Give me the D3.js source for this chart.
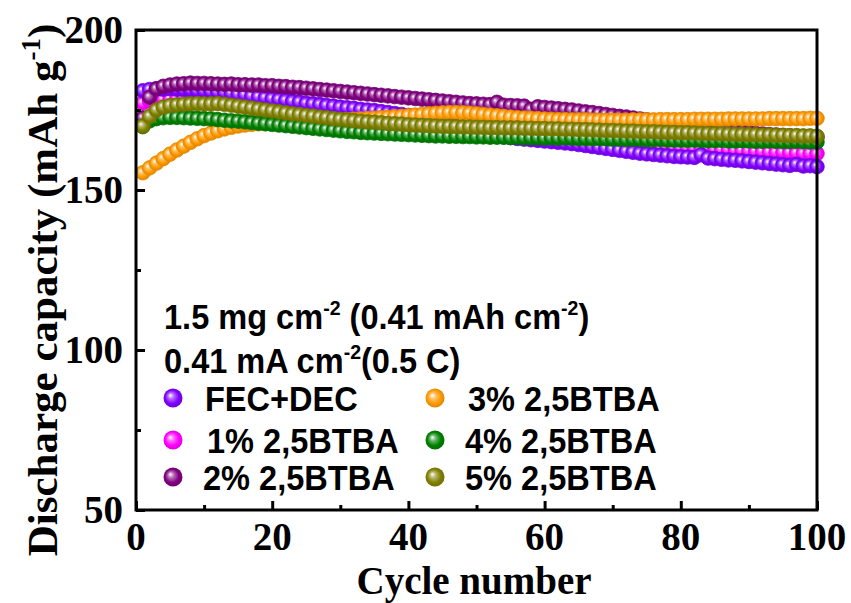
<!doctype html>
<html>
<head>
<meta charset="UTF-8">
<title>discharge capacity</title>
<script src="https://d3js.org/d3.v7.min.js"></script>
<style>
    body{ margin:0; background:#fff; }
    svg{ display:block; }
</style>
</head>
<body>
<div id="chart"></div>
<script>
// cycle index and tick labels
var cycles = d3.range(1, 101);
var xTicks = [0, 20, 40, 60, 80, 100];
var yTicks = [50, 100, 150, 200];

// discharge capacity (mAh/g)
var fecDec = [181.0,181.4,181.6,181.5,181.7,181.5,181.4,181.3,181.1,181.0,
180.8,180.6,180.5,180.2,179.9,179.7,179.3,179.1,178.8,178.5,
178.3,178.0,177.7,177.5,177.1,176.9,176.7,176.4,176.2,175.9,
175.7,175.5,175.2,175.0,174.8,174.5,174.2,173.9,173.6,173.3,
172.9,172.5,172.1,171.6,171.1,170.4,169.7,169.1,168.5,168.0,
167.6,167.2,166.9,166.6,166.4,166.1,165.9,165.7,165.5,165.3,
165.1,164.9,164.7,164.5,164.2,163.9,163.6,163.3,163.0,162.7,
162.4,162.1,161.8,161.5,161.3,161.1,160.9,160.7,160.5,160.4,
160.3,160.2,161.0,160.0,159.8,159.6,159.4,159.3,159.1,158.9,
158.7,158.5,158.3,158.1,157.9,157.7,158.0,157.5,157.6,157.3];

var btba1 = [177.2,177.8,178.1,178.3,178.4,178.3,178.3,178.1,178.0,177.9,
177.8,177.6,177.5,177.3,177.1,176.9,176.8,176.5,176.4,176.2,
176.0,175.7,175.6,175.3,175.2,174.9,174.8,174.5,174.4,174.2,
173.9,173.8,173.5,173.4,173.1,173.0,172.7,172.5,172.2,171.9,
171.6,171.3,171.0,170.7,170.5,170.1,169.8,169.5,169.2,168.9,
168.6,168.4,168.0,167.8,167.5,167.3,167.0,166.8,166.6,166.4,
166.2,166.0,165.8,165.6,165.4,165.1,165.0,164.7,164.6,164.4,
164.2,164.0,163.9,163.7,163.6,163.5,163.4,163.4,163.3,163.2,
163.1,163.0,162.9,162.9,162.7,162.6,162.6,162.4,162.3,162.2,
162.1,162.0,161.9,161.8,161.8,161.7,161.6,161.5,161.5,161.4];

var btba2 = [172.5,179.0,181.6,182.4,182.8,183.1,183.2,183.4,183.3,183.3,
183.2,183.1,183.0,183.1,182.9,182.9,182.8,182.8,182.6,182.6,
182.4,182.3,182.1,182.0,181.8,181.6,181.4,181.2,181.0,180.8,
180.6,180.4,180.2,180.0,179.8,179.6,179.4,179.2,179.0,178.8,
178.6,178.4,178.2,178.0,177.8,177.6,177.4,177.2,177.0,176.9,
176.8,176.7,177.4,176.5,176.4,176.3,176.2,175.2,176.0,175.8,
175.6,175.4,175.2,175.0,174.7,174.4,174.2,173.9,173.6,173.3,
173.0,172.8,172.5,172.2,171.9,171.6,171.3,171.0,170.7,170.4,
170.1,169.8,169.6,169.3,171.0,168.8,168.5,168.3,168.1,167.9,
167.7,167.5,167.3,167.2,167.0,166.9,166.8,166.7,166.6,166.5];

var btba3 = [155.4,156.9,158.4,159.8,161.2,162.5,163.7,164.9,166.0,167.0,
167.8,168.5,169.1,169.6,170.0,170.3,170.5,170.7,170.8,170.9,
171.0,171.1,171.2,171.3,171.4,171.5,171.6,171.7,171.8,171.9,
172.0,172.1,172.2,172.3,172.4,172.6,172.7,172.9,173.0,173.2,
173.4,173.6,173.8,174.0,174.1,174.2,174.2,174.1,174.0,173.8,
173.6,173.4,173.2,173.0,172.8,172.6,172.5,172.4,172.3,172.2,
172.1,172.0,172.0,171.9,171.9,171.9,171.8,171.8,171.8,171.8,
171.8,171.8,171.9,171.9,171.9,171.9,172.0,172.0,172.0,172.0,
172.0,172.1,172.1,172.1,172.1,172.1,172.2,172.2,172.2,172.2,
172.2,172.2,172.3,172.3,172.3,172.3,172.3,172.3,172.4,172.4];

var btba4 = [169.8,171.6,172.3,172.6,172.7,172.7,172.6,172.5,172.4,172.3,
172.2,172.0,171.8,171.6,171.5,171.3,171.1,170.9,170.7,170.5,
170.3,170.1,169.9,169.7,169.5,169.3,169.1,168.9,168.7,168.5,
168.3,168.2,168.0,167.9,167.8,167.7,167.6,167.5,167.4,167.3,
167.2,167.1,167.0,166.9,166.9,166.8,166.8,166.7,166.7,166.6,
166.6,166.5,166.5,166.5,166.4,166.4,166.3,166.3,166.3,166.2,
166.3,166.2,166.3,166.2,166.1,166.1,166.0,166.1,166.0,165.9,
165.9,165.8,165.9,165.8,165.7,165.7,165.8,165.6,165.6,165.6,
165.5,165.6,165.5,165.4,165.4,165.5,165.3,165.3,165.4,165.3,
165.2,165.2,165.3,165.2,165.1,165.1,165.2,165.1,165.0,165.0];

var btba5 = [170.0,173.0,175.0,175.9,176.4,176.6,176.8,176.9,177.0,176.9,
176.9,177.0,176.8,176.5,176.2,175.9,175.6,175.3,175.0,174.7,
174.4,174.1,173.8,173.6,173.3,173.1,172.8,172.6,172.3,172.1,
171.9,171.7,171.5,171.3,171.2,171.0,170.8,170.7,170.6,170.4,
170.3,170.2,170.1,170.0,169.9,169.9,169.8,169.7,169.7,169.6,
169.6,169.5,169.5,169.4,169.4,169.4,169.3,169.3,169.2,169.2,
169.1,169.1,169.0,169.0,168.9,168.9,168.8,168.7,168.6,168.6,
168.5,168.4,168.4,168.3,168.2,168.2,168.1,168.0,168.0,167.9,
167.9,167.8,167.7,167.7,167.6,167.6,167.5,167.4,167.4,167.3,
167.3,167.2,167.2,167.1,167.1,167.0,167.0,166.9,166.9,166.8];

var names = ["FEC+DEC", "1% 2,5BTBA", "2% 2,5BTBA", "3% 2,5BTBA", "4% 2,5BTBA", "5% 2,5BTBA"];
var colors = ["#7f00ff", "#ff00ff", "#800080", "#ff9900", "#008000", "#808000"];
var values = [fecDec, btba1, btba2, btba3, btba4, btba5];
var drawOrder = [1, 0, 2, 3, 4, 5];

var W = 851, H = 603;
var m = {left: 136, right: 817, top: 30, bottom: 510};

var x = d3.scaleLinear().domain([0, 100]).range([m.left, m.right]);
var y = d3.scaleLinear().domain([50, 200]).range([m.bottom, m.top]);

var svg = d3.select("#chart").append("svg")
    .attr("width", W).attr("height", H);

// sphere gradients
var defs = svg.append("defs");
colors.forEach(function(c, i){
    var g = defs.append("radialGradient")
        .attr("id", "ball" + i)
        .attr("cx", "50%").attr("cy", "50%").attr("r", "55%")
        .attr("fx", "35%").attr("fy", "35%");
    g.append("stop").attr("offset", "0%").attr("stop-color", "#ffffff");
    g.append("stop").attr("offset", "30%").attr("stop-color", d3.interpolateRgb("#ffffff", c)(0.6));
    g.append("stop").attr("offset", "65%").attr("stop-color", c);
    g.append("stop").attr("offset", "100%").attr("stop-color", d3.color(c).darker(0.5));
});

// data markers
var plot = svg.append("g");
drawOrder.forEach(function(s){
    plot.append("g").selectAll("circle")
        .data(values[s])
        .enter().append("circle")
        .attr("cx", function(d, i){ return x(cycles[i]); })
        .attr("cy", function(d){ return y(d); })
        .attr("r", 7.3)
        .attr("fill", "url(#ball" + s + ")")
        .attr("stroke", d3.color(colors[s]).darker(0.3))
        .attr("stroke-width", 0.8);
});

// axes with inward ticks
var xAxis = d3.axisBottom(x).tickValues(d3.range(0, 101, 10))
    .tickSize(-8).tickFormat("");
var gx = svg.append("g").attr("transform", "translate(0," + m.bottom + ")").call(xAxis);
gx.selectAll(".tick line").attr("stroke-width", 3)
  .attr("y2", function(d){ return d % 20 === 0 ? -9 : -5; });
gx.select(".domain").remove();

var yAxis = d3.axisLeft(y).tickValues(d3.range(50, 201, 25))
    .tickSize(-8).tickFormat("");
var gy = svg.append("g").attr("transform", "translate(" + m.left + ",0)").call(yAxis);
gy.selectAll(".tick line").attr("stroke-width", 3)
  .attr("x2", function(d){ return d % 50 === 0 ? 9 : 5; });
gy.select(".domain").remove();

svg.append("rect")
    .attr("x", m.left).attr("y", m.top)
    .attr("width", m.right - m.left).attr("height", m.bottom - m.top)
    .attr("fill", "none").attr("stroke", "#000").attr("stroke-width", 3);

var serif = "'Liberation Serif','Times New Roman',serif";
var sans = "'Liberation Sans',Arial,sans-serif";

svg.append("g").selectAll("text").data(xTicks).enter().append("text")
    .attr("x", function(d){ return x(d); })
    .attr("y", 550)
    .attr("text-anchor", "middle")
    .attr("font-family", serif).attr("font-weight", "bold").attr("font-size", 39)
    .text(function(d){ return d; });

svg.append("g").selectAll("text").data(yTicks).enter().append("text")
    .attr("x", 123)
    .attr("y", function(d){ return y(d) + 13; })
    .attr("text-anchor", "end")
    .attr("font-family", serif).attr("font-weight", "bold").attr("font-size", 39)
    .text(function(d){ return d; });

svg.append("text")
    .attr("x", 474).attr("y", 594)
    .attr("text-anchor", "middle")
    .attr("font-family", serif).attr("font-weight", "bold").attr("font-size", 39)
    .text("Cycle number");

var yl = svg.append("text")
    .attr("transform", "translate(57,290) rotate(-90)")
    .attr("text-anchor", "middle")
    .attr("font-family", serif).attr("font-weight", "bold").attr("font-size", 43);
yl.append("tspan").text("Discharge capacity (mAh g");
yl.append("tspan").attr("font-size", 27).attr("dy", -17).text("-1");
yl.append("tspan").attr("dy", 17).text(")");

// annotation lines
function supText(px, py, parts){
    var t = svg.append("text")
        .attr("transform", "translate(" + px + "," + py + ") scale(0.93,1)")
        .attr("font-family", sans).attr("font-weight", "bold").attr("font-size", 35);
    parts.forEach(function(p){
        if (p[1]) {
            t.append("tspan").attr("font-size", 21).attr("dy", -14).text(p[0]);
        } else {
            t.append("tspan").attr("dy", p[2] ? 14 : 0).text(p[0]);
        }
    });
}
supText(164, 329, [["1.5 mg cm"], ["-2", true], [" (0.41 mAh cm", false, true], ["-2", true], [")", false, true]]);
supText(164, 373, [["0.41 mA cm"], ["-2", true], ["(0.5 C)", false, true]]);

// legend
var legRows = [398, 440, 477];
names.forEach(function(n, i){
    var col = Math.floor(i / 3), row = i % 3;
    var cx = col === 0 ? 173 : 435;
    var tx = col === 0 ? [205, 207, 203][row] : [468, 465, 465][row];
    svg.append("circle")
        .attr("cx", cx).attr("cy", legRows[row]).attr("r", 9.5)
        .attr("fill", "url(#ball" + i + ")");
    svg.append("text")
        .attr("transform", "translate(" + tx + "," + (legRows[row] + 13) + ") scale(0.93,1)")
        .attr("font-family", sans).attr("font-weight", "bold").attr("font-size", 35)
        .text(n);
});
</script>
</body>
</html>
